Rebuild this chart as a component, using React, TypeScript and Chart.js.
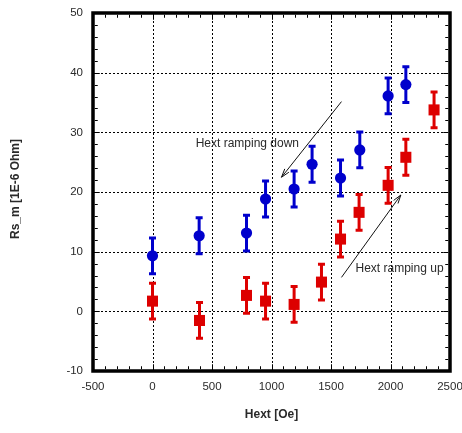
import React, { useEffect, useRef } from "react";
import { Chart, registerables } from "chart.js";

Chart.register(...registerables);

// ---- data ----
const downX = [0, 392, 790, 950, 1190, 1341, 1580, 1742, 1980, 2129];
const downY = [9.31, 12.67, 13.12, 18.83, 20.5, 24.65, 22.35, 27.05, 36.1, 38.0];
const downErr = [3, 3, 3, 3, 3, 3, 3, 3, 3, 3];

const upX = [0, 395, 790, 950, 1190, 1420, 1580, 1736, 1980, 2129, 2366];
const upY = [1.71, -1.53, 2.67, 1.71, 1.16, 4.9, 12.11, 16.59, 21.12, 25.82, 33.76];
const upErr = [3, 3, 3, 3, 3, 3, 3, 3, 3, 3, 3];

const xMin = -500;
const xMax = 2500;
const xStep = 500;
const yMin = -10;
const yMax = 50;
const yStep = 10;

const xTitle = "Hext [Oe]";
const yTitle = "Rs_m [1E-6 Ohm]";
const downLabel = "Hext ramping down";
const upLabel = "Hext ramping up";

const BLUE = "#0000cc";
const RED = "#dd0000";
const FONT = "'Liberation Sans', Arial, Helvetica, sans-serif";

function drawArrow(ctx: CanvasRenderingContext2D, x1: number, y1: number, x2: number, y2: number) {
  const ang = Math.atan2(y2 - y1, x2 - x1);
  const head = 9;
  const spread = 0.3;
  ctx.beginPath();
  ctx.moveTo(x1, y1);
  ctx.lineTo(x2, y2);
  ctx.moveTo(x2 - head * Math.cos(ang - spread), y2 - head * Math.sin(ang - spread));
  ctx.lineTo(x2, y2);
  ctx.lineTo(x2 - head * Math.cos(ang + spread), y2 - head * Math.sin(ang + spread));
  ctx.stroke();
}

const decor = {
  id: "decor",
  beforeDatasetsDraw(chart: any) {
    const { ctx, chartArea: a, scales } = chart;
    const x = scales.x;
    const y = scales.y;
    ctx.save();
    // dotted grid
    ctx.strokeStyle = "#000";
    ctx.lineWidth = 1;
    ctx.setLineDash([2, 2]);
    for (let v = xMin + xStep; v < xMax; v += xStep) {
      const px = Math.round(x.getPixelForValue(v)) + 0.5;
      ctx.beginPath();
      ctx.moveTo(px, a.top);
      ctx.lineTo(px, a.bottom);
      ctx.stroke();
    }
    for (let v = yMin + yStep; v < yMax; v += yStep) {
      const py = Math.round(y.getPixelForValue(v)) + 0.5;
      ctx.beginPath();
      ctx.moveTo(a.left, py);
      ctx.lineTo(a.right, py);
      ctx.stroke();
    }
    ctx.setLineDash([]);
    // error bars
    const bars = (xs: number[], ys: number[], es: number[], color: string) => {
      ctx.strokeStyle = color;
      ctx.lineWidth = 3;
      for (let i = 0; i < xs.length; i++) {
        const px = x.getPixelForValue(xs[i]);
        const top = y.getPixelForValue(ys[i] + es[i]);
        const bot = y.getPixelForValue(ys[i] - es[i]);
        ctx.beginPath();
        ctx.moveTo(px, top);
        ctx.lineTo(px, bot);
        ctx.moveTo(px - 3.5, top);
        ctx.lineTo(px + 3.5, top);
        ctx.moveTo(px - 3.5, bot);
        ctx.lineTo(px + 3.5, bot);
        ctx.stroke();
      }
    };
    bars(downX, downY, downErr, BLUE);
    bars(upX, upY, upErr, RED);
    ctx.restore();
  },
  afterDraw(chart: any) {
    const { ctx, chartArea: a, scales } = chart;
    const x = scales.x;
    const y = scales.y;
    ctx.save();
    // frame
    ctx.strokeStyle = "#000";
    ctx.lineWidth = 3.5;
    ctx.strokeRect(a.left, a.top, a.right - a.left, a.bottom - a.top);
    // inward ticks
    ctx.lineWidth = 1;
    const inset = 1.75;
    for (let v = xMin; v <= xMax; v += 100) {
      const major = v % xStep === 0;
      const len = major ? 5 : 3;
      const px = Math.round(x.getPixelForValue(v)) + 0.5;
      ctx.beginPath();
      ctx.moveTo(px, a.bottom - inset);
      ctx.lineTo(px, a.bottom - inset - len);
      ctx.moveTo(px, a.top + inset);
      ctx.lineTo(px, a.top + inset + len);
      ctx.stroke();
    }
    for (let v = yMin; v <= yMax; v += 2) {
      const major = v % yStep === 0;
      const len = major ? 5 : 3;
      const py = Math.round(y.getPixelForValue(v)) + 0.5;
      ctx.beginPath();
      ctx.moveTo(a.left + inset, py);
      ctx.lineTo(a.left + inset + len, py);
      ctx.moveTo(a.right - inset, py);
      ctx.lineTo(a.right - inset - len, py);
      ctx.stroke();
    }
    // arrows
    ctx.strokeStyle = "#111";
    ctx.lineWidth = 1;
    drawArrow(ctx, x.getPixelForValue(1588), y.getPixelForValue(35.15), x.getPixelForValue(1084), y.getPixelForValue(22.47));
    drawArrow(ctx, x.getPixelForValue(1588), y.getPixelForValue(5.69), x.getPixelForValue(2087), y.getPixelForValue(19.5));
    // annotation texts
    ctx.fillStyle = "#2a2a2a";
    ctx.font = `12px ${FONT}`;
    ctx.textAlign = "center";
    ctx.textBaseline = "middle";
    ctx.fillText(downLabel, x.getPixelForValue(797), y.getPixelForValue(28.17));
    ctx.fillText(upLabel, x.getPixelForValue(2076), y.getPixelForValue(7.2));
    // axis titles
    ctx.font = `bold 12px ${FONT}`;
    ctx.fillText(xTitle, (a.left + a.right) / 2, 415);
    ctx.translate(16, 189);
    ctx.rotate(-Math.PI / 2);
    ctx.fillText(yTitle, 0, 0);
    ctx.restore();
  },
};

export default function App() {
  const ref = useRef<HTMLCanvasElement | null>(null);
  useEffect(() => {
    if (!ref.current) return;
    const chart = new Chart(ref.current, {
      type: "scatter",
      data: {
        datasets: [
          {
            label: downLabel,
            data: downX.map((v, i) => ({ x: v, y: downY[i] })),
            backgroundColor: BLUE,
            borderColor: BLUE,
            pointStyle: "circle",
            pointRadius: 5.6,
            pointBorderWidth: 0,
            showLine: false,
          },
          {
            label: upLabel,
            data: upX.map((v, i) => ({ x: v, y: upY[i] })),
            backgroundColor: RED,
            borderColor: RED,
            pointStyle: "rect",
            pointRadius: 7.8,
            pointBorderWidth: 0,
            showLine: false,
          },
        ],
      },
      options: {
        responsive: false,
        animation: false,
        events: [],
        layout: { padding: { top: 13, right: 12, left: 0, bottom: 0 } },
        plugins: { legend: { display: false }, tooltip: { enabled: false } },
        scales: {
          x: {
            type: "linear",
            min: xMin,
            max: xMax,
            grid: { display: false, drawTicks: false },
            border: { display: false },
            ticks: {
              stepSize: xStep,
              autoSkip: false,
              maxRotation: 0,
              padding: 9,
              color: "#2a2a2a",
              font: { family: FONT, size: 11.5 },
              callback: (v: any) => String(v),
            },
            afterFit: (s: any) => {
              s.height = 62;
              s.paddingLeft = 0;
              s.paddingRight = 0;
            },
          },
          y: {
            type: "linear",
            min: yMin,
            max: yMax,
            grid: { display: false, drawTicks: false },
            border: { display: false },
            ticks: {
              stepSize: yStep,
              autoSkip: false,
              padding: 10,
              color: "#2a2a2a",
              font: { family: FONT, size: 11.5 },
              callback: (v: any) => String(v),
            },
            afterFit: (s: any) => {
              s.width = 93;
              s.paddingTop = 0;
              s.paddingBottom = 0;
            },
          },
        },
      },
      plugins: [decor],
    });
    return () => chart.destroy();
  }, []);
  return (
    <div style={{ position: "absolute", left: 0, top: 0, width: 462, height: 433, background: "#fff" }}>
      <canvas ref={ref} width={462} height={433} style={{ display: "block" }} />
    </div>
  );
}
